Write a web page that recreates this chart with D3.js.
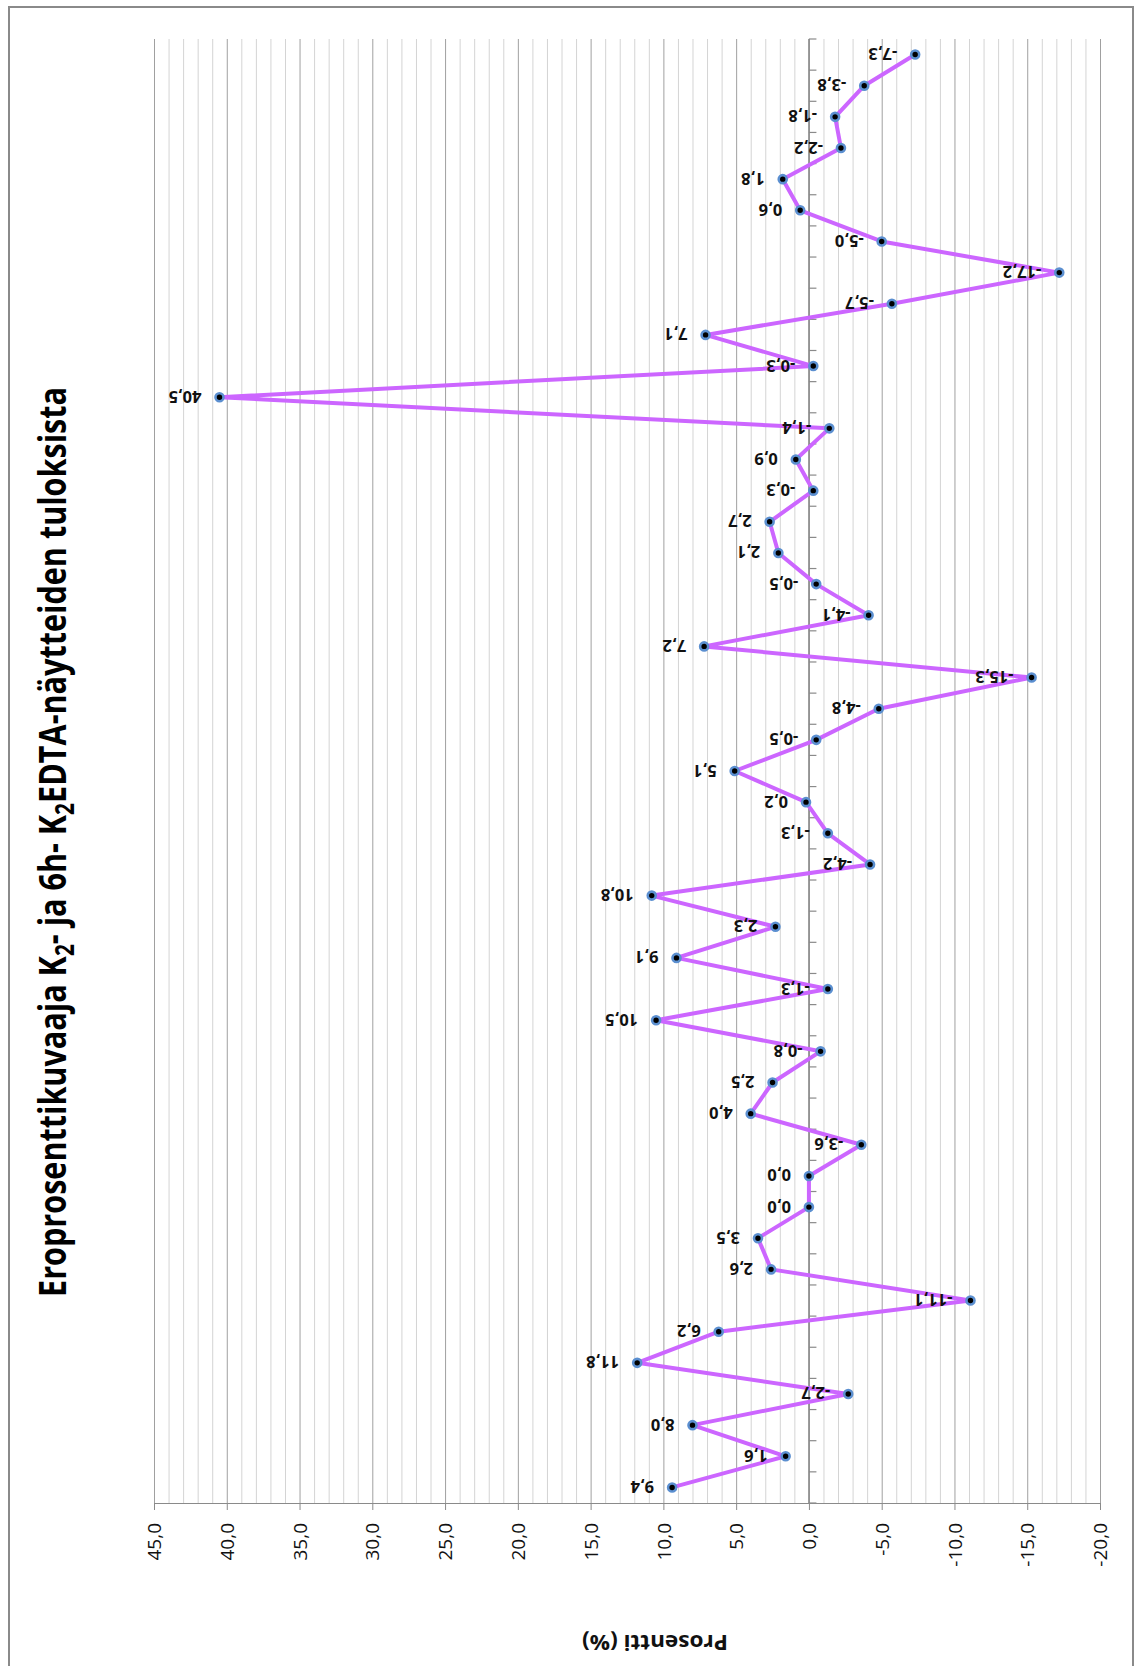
<!DOCTYPE html>
<html><head><meta charset="utf-8">
<script src="https://cdn.jsdelivr.net/npm/d3@7"></script>
<style>html,body{margin:0;padding:0;background:#fff;} svg{display:block}</style>
</head><body>
<svg id="chart" width="1135" height="1666"></svg>
<script>
// ---- data ----
const categories = [1,2,3,4,5,6,7,8,9,10,11,12,13,14,15,16,17,18,19,20,21,22,23,24,25,26,27,28,29,30,31,32,33,34,35,36,37,38,39,40,41,42,43,44,45,46,47];
const values = [9.4, 1.6, 8.0, -2.7, 11.8, 6.2, -11.1, 2.6, 3.5, 0.0, 0.0, -3.6, 4.0, 2.5, -0.8, 10.5,
  -1.3, 9.1, 2.3, 10.8, -4.2, -1.3, 0.2, 5.1, -0.5, -4.8, -15.3, 7.2, -4.1, -0.5, 2.1, 2.7, -0.3, 0.9,
  -1.4, 40.5, -0.3, 7.1, -5.7, -17.2, -5.0, 0.6, 1.8, -2.2, -1.8, -3.8, -7.3];
const valueTicks = [45, 40, 35, 30, 25, 20, 15, 10, 5, 0, -5, -10, -15, -20];
const titleParts = [["Eroprosenttikuvaaja K", false], ["2", true], ["- ja 6h- K", false], ["2", true], ["EDTA-näytteiden tuloksista", false]];
const axisTitle = "Prosentti (%)";

(function () {
const svg = d3.select("#chart");
const fi = d3.formatLocale({decimal: ",", thousands: " ", grouping: [3], currency: ["", " €"], minus: "-"});
const fmt = fi.format(".1f");
const FONT = "'Open Sans', 'Liberation Sans', sans-serif";

const pLeft = 154, pRight = 1100, pTop = 39, pBottom = 1503;
const x = d3.scaleLinear().domain([45, -20]).range([pLeft, pRight]);
const y = d3.scaleBand().domain(categories).range([pBottom, pTop]);
const data = categories.map((c, i) => ({c, v: values[i]}));

svg.append("rect").attr("width", 1135).attr("height", 1666).attr("fill", "#fff");
svg.append("rect").attr("x", 9).attr("y", 7).attr("width", 1124).attr("height", 1680)
  .attr("fill", "none").attr("stroke", "#8a8a8a").attr("stroke-width", 2);

const gridVals = d3.range(-20, 46);
svg.append("g").selectAll("line").data(gridVals).join("line")
  .attr("x1", d => x(d) + 0.5).attr("x2", d => x(d) + 0.5)
  .attr("y1", pTop).attr("y2", pBottom)
  .attr("stroke", d => d % 5 === 0 ? "#a0a0a0" : "#d4d4d4")
  .attr("stroke-width", 1);

const xAxis = svg.append("g").attr("transform", `translate(0,${pBottom})`)
  .call(d3.axisBottom(x).tickValues(valueTicks).tickSize(7).tickSizeOuter(0).tickFormat(fmt));
xAxis.select(".domain").attr("stroke", "#8a8a8a");
xAxis.selectAll(".tick line").attr("stroke", "#8a8a8a");
xAxis.selectAll(".tick text")
  .attr("transform", "rotate(-90)")
  .attr("x", -20).attr("y", 0).attr("dy", "0.35em")
  .attr("text-anchor", "end")
  .attr("font-family", FONT).attr("font-size", 19).attr("fill", "#111");

const catAxis = svg.append("g");
catAxis.append("line").attr("x1", x(0)).attr("x2", x(0)).attr("y1", pTop).attr("y2", pBottom)
  .attr("stroke", "#8a8a8a").attr("stroke-width", 1.5);
const bounds = categories.map(c => y(c)).concat([y(categories[0]) + y.bandwidth()]);
catAxis.selectAll("line.t").data(bounds).join("line").attr("class", "t")
  .attr("x1", x(0)).attr("x2", x(0) + 7.5)
  .attr("y1", d => d).attr("y2", d => d)
  .attr("stroke", "#8a8a8a").attr("stroke-width", 1.2);

const line = d3.line().x(d => x(d.v)).y(d => y(d.c) + y.bandwidth() / 2);
svg.append("path").datum(data).attr("d", line)
  .attr("fill", "none").attr("stroke", "#cc66ff").attr("stroke-width", 4)
  .attr("stroke-linejoin", "round");

svg.append("g").selectAll("circle").data(data).join("circle")
  .attr("cx", d => x(d.v)).attr("cy", d => y(d.c) + y.bandwidth() / 2)
  .attr("r", 4).attr("fill", "#000").attr("stroke", "#5b8fd0").attr("stroke-width", 2.6);

svg.append("g").selectAll("text").data(data).join("text")
  .attr("transform", d => `translate(${x(d.v) - 18},${y(d.c) + y.bandwidth() / 2}) rotate(180)`)
  .attr("text-anchor", "start").attr("dominant-baseline", "central")
  .attr("font-family", FONT).attr("font-weight", "bold").attr("font-size", 16.5).attr("fill", "#111")
  .text(d => fmt(d.v));

svg.append("text")
  .attr("transform", "translate(655,1643) rotate(180)")
  .attr("text-anchor", "middle").attr("dominant-baseline", "central")
  .attr("font-family", FONT).attr("font-weight", "bold").attr("font-size", 21).attr("fill", "#111")
  .attr("textLength", 146).attr("lengthAdjust", "spacingAndGlyphs")
  .text(axisTitle);

const title = svg.append("text")
  .attr("transform", "translate(66,842) rotate(-90)")
  .attr("text-anchor", "middle")
  .attr("font-family", FONT).attr("font-weight", "bold").attr("font-size", 38).attr("fill", "#000")
  .attr("textLength", 910).attr("lengthAdjust", "spacingAndGlyphs");
titleParts.forEach(([t, sub], i) => {
  const ts = title.append("tspan").text(t);
  if (sub) ts.attr("font-size", 26).attr("dy", 8);
  else if (i > 0 && titleParts[i - 1][1]) ts.attr("dy", -8);
});
})();
</script>
</body></html>
